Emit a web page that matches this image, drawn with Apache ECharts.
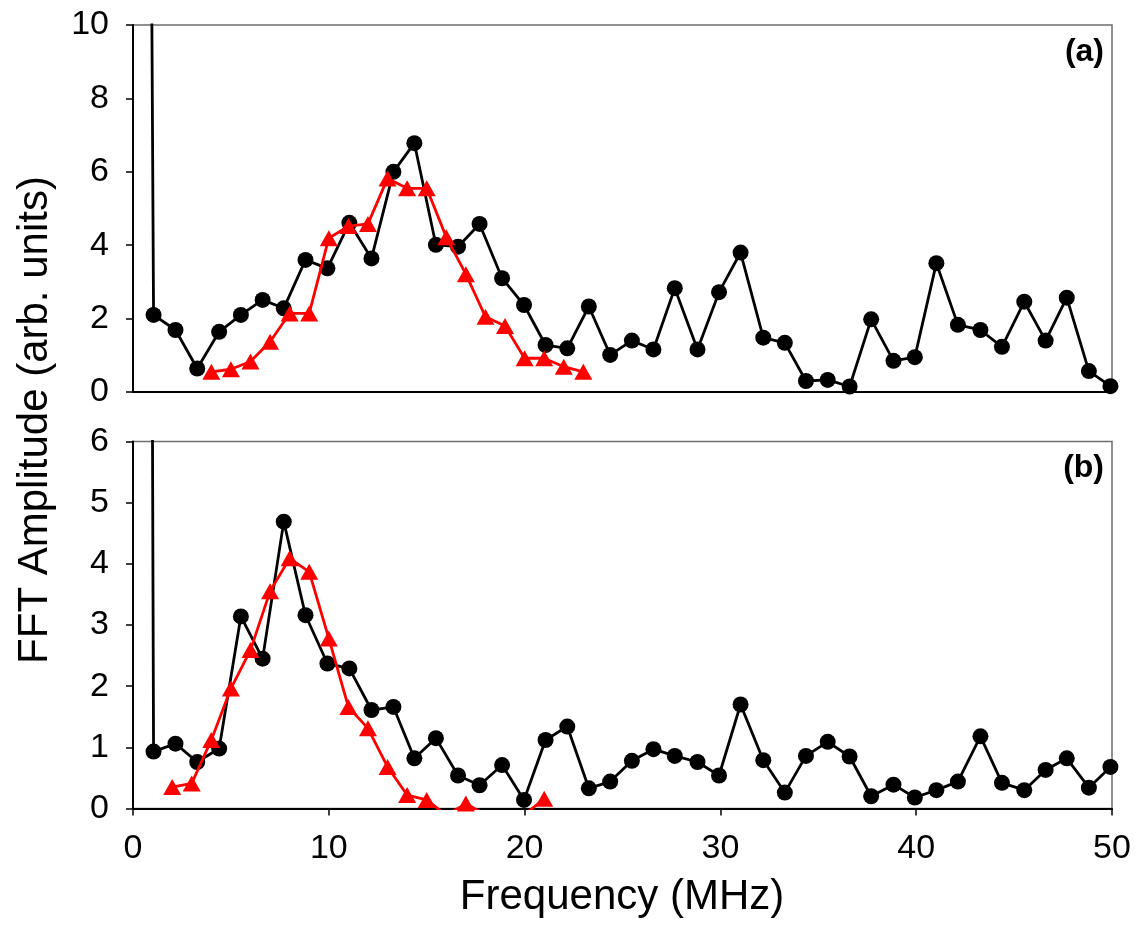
<!DOCTYPE html>
<html>
<head>
<meta charset="utf-8">
<script src="https://cdn.jsdelivr.net/npm/echarts@6/dist/echarts.min.js"></script>
<style>
html,body{margin:0;padding:0;background:#fff;}
#chart{width:1138px;height:925px;}
</style>
</head>
<body>
<div id="chart"></div>
<script>
// Frequencies (MHz) of the measured FFT points (first point = off-scale spike near 0)
const freqBlack = [0, 1.05, 2.17, 3.28, 4.4, 5.51, 6.62, 7.7, 8.81, 9.93, 11.05, 12.18, 13.3, 14.37, 15.47, 16.6, 17.7, 18.85, 19.97, 21.07, 22.18, 23.28, 24.37, 25.48, 26.58, 27.67, 28.83, 29.93, 31.03, 32.19, 33.29, 34.37, 35.48, 36.6, 37.7, 38.84, 39.93, 41.03, 42.13, 43.28, 44.38, 45.52, 46.61, 47.69, 48.82, 49.92];
// Panel (a) measured amplitude
const ampA = [100, 2.10, 1.69, 0.64, 1.64, 2.10, 2.51, 2.28, 3.60, 3.37, 4.61, 3.64, 6.0, 6.78, 4.01, 3.96, 4.58, 3.10, 2.37, 1.28, 1.19, 2.33, 1.01, 1.40, 1.16, 2.83, 1.16, 2.72, 3.80, 1.48, 1.34, 0.30, 0.33, 0.15, 1.98, 0.85, 0.95, 3.51, 1.83, 1.69, 1.23, 2.46, 1.40, 2.57, 0.57, 0.16];
// Panel (b) measured amplitude
const ampB = [100, 0.93, 1.06, 0.76, 0.98, 3.14, 2.45, 4.69, 3.16, 2.37, 2.29, 1.61, 1.66, 0.82, 1.15, 0.54, 0.38, 0.71, 0.14, 1.12, 1.34, 0.33, 0.44, 0.78, 0.97, 0.86, 0.76, 0.54, 1.70, 0.79, 0.26, 0.86, 1.09, 0.85, 0.20, 0.39, 0.18, 0.30, 0.44, 1.18, 0.42, 0.30, 0.63, 0.82, 0.34, 0.68];
// Red (fit) curves
const freqRedA = [4, 5, 6, 7, 8, 9, 10, 11, 12, 13, 14, 15, 16, 17, 18, 19, 20, 21, 22, 23];
const fitA = [0.55, 0.62, 0.83, 1.37, 2.14, 2.14, 4.19, 4.52, 4.58, 5.82, 5.55, 5.55, 4.22, 3.21, 2.05, 1.80, 0.92, 0.92, 0.69, 0.55];
const freqRedB = [2, 3, 4, 5, 6, 7, 8, 9, 10, 11, 12, 13, 14, 15, 16, 17, 18, 19, 20, 21];
const fitB = [0.35, 0.41, 1.12, 1.96, 2.59, 3.55, 4.09, 3.87, 2.78, 1.66, 1.31, 0.68, 0.22, 0.14, -0.11, 0.08, -0.10, -0.10, -0.10, 0.16];
// Axis ticks
const xTicks = [0, 10, 20, 30, 40, 50];
const yTicksA = [0, 2, 4, 6, 8, 10];
const yTicksB = [0, 1, 2, 3, 4, 5, 6];

const zip = (xs, ys) => xs.map((x, i) => [x, ys[i]]);
const FONT = '"Liberation Sans", Arial, sans-serif';

const chart = echarts.init(document.getElementById('chart'), null, {renderer: 'canvas'});

const gridCommon = {left: 133, right: 26, height: 367, show: true, borderColor: '#6e6e6e', borderWidth: 1.5, backgroundColor: 'transparent'};

function xAxis(idx, showLabels) {
  return {
    type: 'value', gridIndex: idx, min: xTicks[0], max: xTicks[xTicks.length - 1], interval: 10,
    axisLine: {show: true, onZero: false, lineStyle: {color: '#000', width: 2}},
    axisTick: {show: showLabels, inside: false, length: 7, lineStyle: {color: '#000', width: 1.5}},
    axisLabel: {show: showLabels, fontSize: 34, color: '#000', fontFamily: FONT, margin: 23},
    splitLine: {show: false}
  };
}
function yAxis(idx, ticks) {
  return {
    type: 'value', gridIndex: idx, min: ticks[0], max: ticks[ticks.length - 1], interval: ticks[1] - ticks[0],
    axisLine: {show: true, onZero: false, lineStyle: {color: '#000', width: 2}},
    axisTick: {show: true, inside: false, length: 7, lineStyle: {color: '#000', width: 1.5}},
    axisLabel: {fontSize: 34, color: '#000', fontFamily: FONT, margin: 24},
    splitLine: {show: false}
  };
}

const blackStyle = {
  type: 'line', symbol: 'circle', symbolSize: 16, clip: true,
  lineStyle: {color: '#000', width: 2.8},
  itemStyle: {color: '#000'},
  animation: false, z: 2
};
const redStyle = {
  type: 'line', symbol: 'triangle', symbolSize: [18, 16], clip: true,
  lineStyle: {color: '#ff0000', width: 2.8},
  itemStyle: {color: '#ff0000'},
  animation: false, z: 3
};

chart.setOption({
  animation: false,
  grid: [
    Object.assign({top: 25}, gridCommon),
    Object.assign({top: 441.5}, gridCommon)
  ],
  xAxis: [xAxis(0, false), xAxis(1, true)],
  yAxis: [yAxis(0, yTicksA), yAxis(1, yTicksB)],
  series: [
    Object.assign({name: 'a-data', xAxisIndex: 0, yAxisIndex: 0, data: zip(freqBlack, ampA)}, blackStyle),
    Object.assign({name: 'a-fit', xAxisIndex: 0, yAxisIndex: 0, data: zip(freqRedA, fitA)}, redStyle),
    Object.assign({name: 'b-data', xAxisIndex: 1, yAxisIndex: 1, data: zip(freqBlack, ampB)}, blackStyle),
    Object.assign({name: 'b-fit', xAxisIndex: 1, yAxisIndex: 1, data: zip(freqRedB, fitB)}, redStyle)
  ],
  graphic: [
    {type: 'text', x: 622, y: 897, silent: true,
     style: {text: 'Frequency (MHz)', font: '42px ' + FONT, fill: '#000', textAlign: 'center', textVerticalAlign: 'middle'}},
    {type: 'text', x: 35, y: 420, rotation: Math.PI / 2, silent: true,
     style: {text: 'FFT Amplitude (arb. units)', font: '42px ' + FONT, fill: '#000', textAlign: 'center', textVerticalAlign: 'middle'}},
    {type: 'text', x: 1104, y: 52, silent: true,
     style: {text: '(a)', font: 'bold 32px ' + FONT, fill: '#000', textAlign: 'right', textVerticalAlign: 'middle'}},
    {type: 'text', x: 1104, y: 468, silent: true,
     style: {text: '(b)', font: 'bold 32px ' + FONT, fill: '#000', textAlign: 'right', textVerticalAlign: 'middle'}}
  ]
});
</script>
</body>
</html>
